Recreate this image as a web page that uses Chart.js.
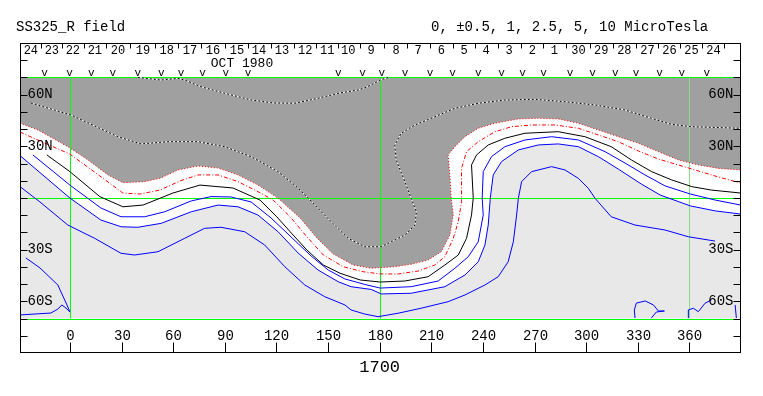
<!DOCTYPE html>
<html>
<head>
<meta charset="utf-8">
<script src="https://cdn.jsdelivr.net/npm/chart.js@4.4.1/dist/chart.umd.min.js"></script>
<style>
  html, body { margin: 0; padding: 0; background: #fff; }
  canvas { display: block; }
</style>
</head>
<body>
<canvas id="map" width="763" height="396"></canvas>
<script>
// contour lines as [lon, lat] pairs
const redDotted = [[-29,43.4],[-18.6,39.5],[-1.2,29.8],[10.5,22.1],[22.1,13.4],[30.8,8.9],[43.4,9.5],[52.9,11.6],[62.8,16.3],[74.4,18.6],[86.1,17.4],[97.7,13.4],[109.3,7.5],[121,-0.2],[133.8,-11.6],[143.5,-23.2],[153,-32.5],[164.6,-38.9],[175.1,-40.8],[188.8,-39.9],[198.3,-38.5],[208.2,-36],[215.8,-31.2],[220.8,-21.5],[222.8,-9.9],[221.6,-0.2],[220.8,13.4],[219.8,25],[223.7,29.8],[229.6,35.6],[237.3,40.5],[247,43.4],[260.6,45.9],[272.2,46.3],[283.8,45.9],[295.5,43.4],[307.1,39.5],[318.7,35.6],[330.4,31.8],[342,26.9],[353.6,22.1],[365.2,19.2],[376.9,17.2],[389.7,16.3]];
const redDashDot = [[-29,38.3],[-17.4,33.1],[0,25.5],[17.4,12.8],[30.8,2.9],[40.7,2.3],[52.3,4.6],[64,9.9],[74.4,13.4],[86.1,13.4],[97.7,9.5],[109.3,3.7],[118.1,-1.2],[128,-10.9],[137.7,-22.5],[147.3,-33.1],[158.8,-39.9],[170.4,-42.8],[180.3,-44.1],[190.8,-44.1],[202.4,-42.4],[212.1,-38.9],[217.9,-34.1],[222.8,-23.4],[225.7,-13.8],[227.6,-2.1],[227.6,17.2],[230.5,26.9],[237.3,32.7],[247,38.5],[256.7,41.4],[268.3,42.4],[281.9,42.4],[295.5,40.5],[307.1,36.6],[318.7,32.7],[330.4,27.3],[342,22.6],[353.6,19.2],[365.2,15.7],[376.9,12.2],[389.7,8.7]];
const zeroLine = [[-13.4,25],[0,15.3],[17.4,0.8],[30.8,-5.1],[42.5,-4.1],[59.9,2.9],[75.6,7.5],[94.8,5.8],[110.5,-1.2],[120.2,-10.9],[128,-19.6],[137.7,-30.2],[147.3,-38.9],[157,-43.7],[168.7,-47.6],[180.3,-48.8],[194.7,-48.2],[208.2,-45.7],[217.9,-38.9],[225.7,-33.1],[230.5,-23.4],[233.4,-9.9],[234.4,0],[233.4,19.2],[236.3,25],[243.1,30.8],[252.8,34.7],[264.5,37.6],[283.8,38.5],[299.3,35.6],[314.6,29.8],[326.3,22.1],[338.1,15.3],[349.7,10.5],[361.4,6.6],[372.8,4.6],[389.7,2.9]];
const blueA = [[-21.5,25],[0,7.5],[18,-5.8],[29.7,-10.9],[43.4,-10.9],[55.1,-8],[70.5,-1.7],[82,0.8],[93.6,0.6],[105.3,-2.3],[116.9,-11.6],[128.5,-22.6],[140.2,-33.7],[150.1,-41.8],[159.8,-47],[171.4,-50.2],[180.3,-52.3],[198.3,-51.5],[214,-48.2],[223.7,-40.8],[231.5,-34.1],[237.3,-25.4],[240.2,-9.9],[239.6,0],[240.2,15.3],[245,24],[252.8,29.8],[264.5,33.7],[279.9,35.6],[295.5,33.7],[311,26.9],[322.6,20.3],[334.2,13.4],[345.9,7],[360.6,2.3],[375.1,-1.2],[389.7,-4.1]];
const blueB = [[-29,24.6],[0,0],[18,-12.8],[29.8,-16.7],[39.5,-17],[53.1,-14.7],[70.5,-8],[86.1,-4.1],[97.7,-5.1],[109.3,-9.9],[121,-19.6],[132.6,-31.9],[144.2,-41.8],[155.9,-48.6],[163.4,-51.5],[175.1,-53.1],[180.9,-55.7],[198.3,-55.3],[217.9,-51.5],[229.6,-44.7],[237.3,-37],[241.2,-27.3],[243.1,-15.7],[244.3,0],[246,13.4],[250.8,21.1],[260.6,27.9],[272.2,30.8],[283.8,31.4],[295.5,29.8],[307.1,24],[318.7,16.8],[332.1,8.1],[343.1,1.7],[360.6,-4.6],[375.1,-7.5],[389.7,-9.3]];
const blueC = [[-29,6.6],[-17.4,-2.3],[-1.2,-15.7],[14.4,-23.4],[29.7,-32.1],[37.6,-33.1],[51.2,-31.2],[66.7,-23.4],[78.3,-17.6],[87.8,-17],[101.6,-19.6],[113.2,-27.3],[124.9,-39.9],[136.5,-50.5],[148.1,-57.3],[159.8,-62.1],[163.4,-65],[171.4,-67.4],[179.1,-68.9],[190.8,-66.9],[204.1,-64],[219.8,-60.2],[229.6,-56.3],[241.2,-50.5],[248.9,-45.7],[254.7,-37],[257.7,-25.4],[259.6,-9.9],[260.6,-0.2],[262.5,9.5],[268.3,15.3],[279.9,18.2],[287.7,16.3],[295.5,11.4],[301.3,5.6],[305.2,-0.2],[314.6,-10.9],[328.4,-15.7],[345.9,-18.6],[359.4,-22.5],[374.9,-25]];
const blueSW = [[-25.6,-34.8],[-17.4,-40.6],[-7,-50.5],[-4.1,-56.9],[-1.7,-62.1],[0,-66.2],[-2.3,-63.9],[-4.7,-62.1],[-7,-64.5],[-11.1,-66.8],[-29,-67.9]];
const blueSE1 = [[328.4,-69.7],[328,-65],[329.2,-61],[334.4,-59.8],[339.1,-62.1],[342,-65.6],[345.5,-65.6],[340.8,-66.2],[337.9,-69.7]];
const blueSE2 = [[359.4,-69.7],[359.4,-65],[362.3,-64],[365.2,-66],[369.1,-61.1],[372.8,-59.2]];
const blueSE3 = [[386.6,-62.1],[387.3,-69.7]];
const dotLow = [[-22.7,55.2],[0.6,48.2],[27.9,35.6],[41.3,31.4],[57,32.7],[74.4,32.7],[90,29.8],[105.3,24],[121,15.3],[132.6,5.8],[138.4,0],[151.8,-13.8],[161.7,-23.4],[171.4,-28.3],[180.9,-28.3],[186.7,-25.4],[194.7,-21.5],[200.5,-15.7],[201.4,-8],[198.3,-0.2],[194.7,9.5],[189.6,22.1],[188.8,30.8],[192.5,37.6],[200.5,42.4],[212.1,47.2],[223.7,52.1],[237.3,55],[252.8,56.9],[270.3,57.3],[287.7,55.9],[305.2,54],[322.6,51.1],[337.9,46.3],[349.5,42.8],[361.2,41.4],[389.7,40.5]];
const dotHigh = [[39.5,70],[52.9,68.5],[62.8,69.5],[66.7,68.5],[76.2,64.6],[90,60.8],[105.3,56.9],[118.1,55.2],[130.7,55],[144.2,57.9],[157,61],[167.5,62.7],[172.7,64.5],[180.3,68.5],[184.9,70]];

// axis labels
const lonTicks = [0, 30, 60, 90, 120, 150, 180, 210, 240, 270, 300, 330, 360];
const latTicks = [60, 30, -30, -60];
const latLabels = ['60N', '30N', '30S', '60S'];
const dayLabels = ['24','23','22','21','20','19','18','17','16','15','14','13','12','11','10','9','8','7','6','5','4','3','2','1','30','29','28','27','26','25','24'];
const dayLon = [-22.7,-10.5,1.7,14.5,27.9,42.5,56.3,69.8,83.1,97.1,109.9,123.3,136.7,149.5,161.7,175.1,189.6,202.4,215.8,229.1,241.9,255.3,268.7,281.5,295.5,308.8,322.2,335.6,348.4,361.2,374.0];
const passLon = [-14.7,-0.2,12.4,25.0,39.5,53.1,64.6,77.1,90.6,103.6,156.0,170.0,181.3,194.8,209.3,222.3,237.4,250.9,263.0,275.3,290.7,303.7,316.9,329.0,342.6,355.6,370.1];

const FONT = '"Liberation Mono", "DejaVu Sans Mono", monospace';
const pts = a => a.map(p => ({ x: p[0], y: p[1] }));

function contour(data, color, extra) {
    return Object.assign({
        data: pts(data),
        borderColor: color,
        borderWidth: 1,
        pointRadius: 0,
        tension: 0,
        fill: false
    }, extra || {});
}

// green grid, box, ticks and all the text
const frame = {
    id: 'frame',
    beforeDatasetsDraw(chart) {
        const { ctx, scales: { x, y } } = chart;
        ctx.save();
        ctx.lineWidth = 1;
        ctx.strokeStyle = '#00ff00';
        [70, 0, -70].forEach(v => {
            const py = Math.round(y.getPixelForValue(v)) + 0.5;
            ctx.beginPath();
            ctx.moveTo(x.left, py);
            ctx.lineTo(x.right, py);
            ctx.stroke();
        });
        [0, 180, 360].forEach(v => {
            const px = Math.round(x.getPixelForValue(v)) + 0.5;
            ctx.strokeStyle = v === 360 ? '#88dd88' : '#00ff00';
            ctx.beginPath();
            ctx.moveTo(px, y.getPixelForValue(70));
            ctx.lineTo(px, y.getPixelForValue(-70));
            ctx.stroke();
        });
        ctx.restore();
    },
    afterDraw(chart) {
        const { ctx, scales: { x, y } } = chart;
        const L = x.left + 0.5, R = Math.round(x.right) - 0.5;
        const T = y.top + 0.5, B = Math.round(y.bottom) - 0.5;
        ctx.save();
        ctx.strokeStyle = '#000';
        ctx.fillStyle = '#000';
        ctx.lineWidth = 1;
        ctx.strokeRect(L, T, R - L, B - T);

        // latitude ticks both sides
        for (let v = -80; v <= 80; v += 10) {
            const py = Math.round(y.getPixelForValue(v)) + 0.5;
            ctx.beginPath();
            ctx.moveTo(L, py); ctx.lineTo(L + 7, py);
            ctx.moveTo(R, py); ctx.lineTo(R - 7, py);
            ctx.stroke();
        }
        ctx.font = '14px ' + FONT;
        ctx.textBaseline = 'middle';
        latTicks.forEach((v, i) => {
            const py = y.getPixelForValue(v);
            ctx.textAlign = 'left';
            ctx.fillText(latLabels[i], L + 7, py);
            ctx.textAlign = 'right';
            ctx.fillText(latLabels[i], R - 7, py);
        });

        // longitude ticks along the bottom
        ctx.textAlign = 'center';
        lonTicks.forEach(v => {
            const px = Math.round(x.getPixelForValue(v)) + 0.5;
            ctx.beginPath();
            ctx.moveTo(px, B); ctx.lineTo(px, B - 10);
            ctx.stroke();
            ctx.fillText(String(v), px, y.getPixelForValue(-80) + 1);
        });

        // day numbers along the top
        ctx.font = '12px ' + FONT;
        const dayPx = dayLon.map(v => x.getPixelForValue(v));
        dayPx.forEach((px, i) => {
            ctx.fillText(dayLabels[i], px, T + 7);
            const prev = i > 0 ? dayPx[i - 1] : px - (dayPx[1] - dayPx[0]);
            const sx = Math.round((prev + px) / 2) + 0.5;
            ctx.beginPath();
            ctx.moveTo(sx, T); ctx.lineTo(sx, T + 5);
            ctx.stroke();
        });
        const last = dayPx[dayPx.length - 1];
        const endSep = Math.round(last + (last - dayPx[dayPx.length - 2]) / 2) + 0.5;
        ctx.beginPath();
        ctx.moveTo(endSep, T); ctx.lineTo(endSep, T + 5);
        ctx.stroke();

        ctx.font = '13px ' + FONT;
        ctx.fillText('OCT 1980', x.getPixelForValue(100), T + 20);

        // orbit markers
        ctx.font = '11px ' + FONT;
        ctx.textBaseline = 'alphabetic';
        passLon.forEach(v => ctx.fillText('v', x.getPixelForValue(v), y.getPixelForValue(70) - 1));

        // titles
        ctx.font = '14px ' + FONT;
        ctx.textBaseline = 'middle';
        ctx.textAlign = 'left';
        ctx.fillText('SS325_R field', 16, 27);
        ctx.fillText('0, \u00B10.5, 1, 2.5, 5, 10 MicroTesla', 431, 27);

        ctx.font = '17px ' + FONT;
        ctx.textAlign = 'center';
        ctx.fillText('1700', x.getPixelForValue(180), 367);
        ctx.restore();
    }
};

new Chart(document.getElementById('map'), {
    type: 'line',
    data: {
        datasets: [
            contour(redDotted, '#ff0000', { borderDash: [1, 2], fill: { value: 70 }, backgroundColor: '#a0a0a0' }),
            contour(redDashDot, '#ff0000', { borderDash: [4, 2, 1, 2] }),
            contour(zeroLine, '#000000'),
            contour(blueA, '#0000ff'),
            contour(blueB, '#0000ff', { fill: { value: -70 }, backgroundColor: '#e8e8e8' }),
            contour(blueC, '#0000ff'),
            contour(blueSW, '#0000ff'),
            contour(blueSE1, '#0000ff'),
            contour(blueSE2, '#0000ff'),
            contour(blueSE3, '#0000ff'),
            contour(dotLow, '#000000', { borderDash: [2, 2], order: 1 }),
            contour(dotLow, '#ffffff', { order: 2 }),
            contour(dotHigh, '#000000', { borderDash: [2, 2], order: 1 }),
            contour(dotHigh, '#ffffff', { order: 2 })
        ]
    },
    options: {
        responsive: false,
        animation: false,
        devicePixelRatio: 1,
        layout: { padding: { left: 20, top: 43, right: 22, bottom: 43 } },
        scales: {
            x: { type: 'linear', min: -29, max: 390, display: false },
            y: { type: 'linear', min: -90, max: 90, display: false }
        },
        plugins: {
            legend: { display: false },
            tooltip: { enabled: false },
            filler: { drawTime: 'beforeDatasetsDraw' }
        }
    },
    plugins: [frame]
});
</script>
</body>
</html>
